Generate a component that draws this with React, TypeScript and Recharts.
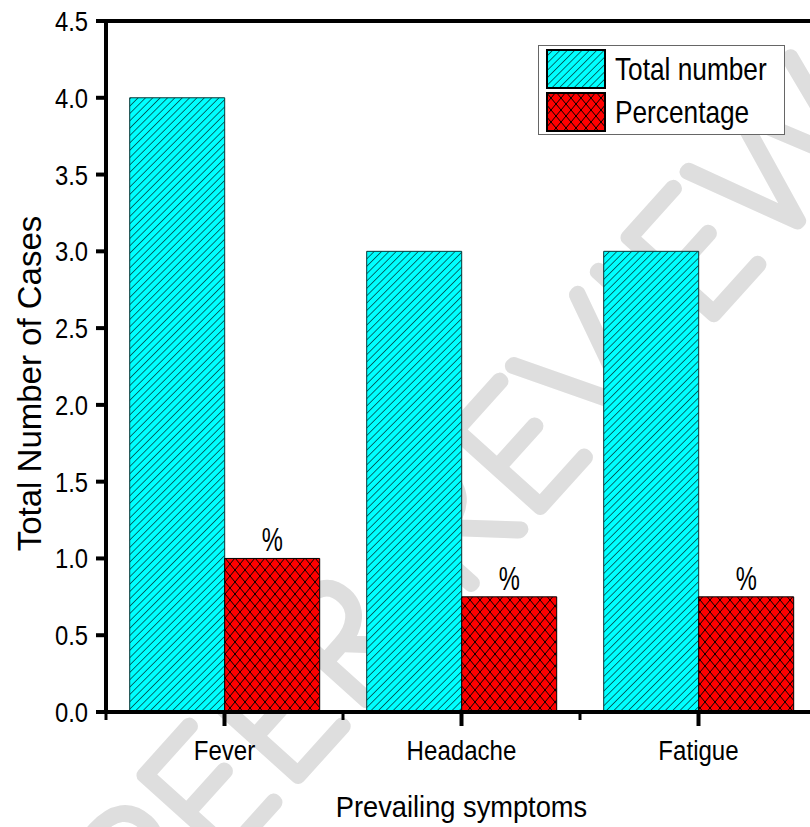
import React from 'react';
import { BarChart, Bar, XAxis, YAxis, Legend, LabelList, ReferenceLine } from 'recharts';

// data
const symptoms = ['Fever', 'Headache', 'Fatigue'];
const totalNumber = [4.0, 3.0, 3.0];
const percentage = [1.0, 0.75, 0.75];
const yTicks = [0, 0.5, 1.0, 1.5, 2.0, 2.5, 3.0, 3.5, 4.0, 4.5];
const seriesNames = ['Total number', 'Percentage'];

const data = symptoms.map((name, i) => ({ name, total: totalNumber[i], pct: percentage[i] }));

// no narrow font installed, so Liberation Sans gets squeezed horizontally
const SANS = "'Liberation Sans', Arial, sans-serif";
const FILLS = ['url(#hatchCyan)', 'url(#crossRed)'];

// category tick + the small minor ticks at the band edges
const XTick = (props: any) => {
  const { x, y, payload, index, visibleTicksCount } = props;
  const half = payload?.offset ?? 0;
  const axisY = y - 28;
  return (
    <g>
      <line x1={x - half} x2={x - half} y1={axisY} y2={axisY + 8} stroke="#000" strokeWidth={3} />
      {index === visibleTicksCount - 1 && (
        <line x1={x + half} x2={x + half} y1={axisY} y2={axisY + 8} stroke="#000" strokeWidth={3} />
      )}
      <g transform={`translate(${x},${y}) scale(0.86,1)`}>
        <text x={0} y={0} dy="0.71em" textAnchor="middle" fontSize={28} fontFamily={SANS} fill="#000">
          {payload.value}
        </text>
      </g>
    </g>
  );
};

const YTick = (props: any) => {
  const { x, y, payload } = props;
  return (
    <g transform={`translate(${x},${y}) scale(0.85,1)`}>
      <text x={0} y={0} dy="0.355em" textAnchor="end" fontSize={28} fontFamily={SANS} fill="#000">
        {Number(payload.value).toFixed(1)}
      </text>
    </g>
  );
};

const YLabel = (props: any) => {
  const vb = props.viewBox || {};
  const x = 29;
  const y = (vb.y ?? 21) + (vb.height ?? 691) / 2 + 17;
  return (
    <text
      x={x}
      y={y}
      transform={`rotate(-90 ${x} ${y})`}
      textAnchor="middle"
      dominantBaseline="central"
      fontSize={33}
      fontFamily={SANS}
      fill="#000"
    >
      Total Number of Cases
    </text>
  );
};

const XLabel = (props: any) => {
  const vb = props.viewBox || {};
  const cx = (vb.x ?? 106) + (vb.width ?? 711) / 2;
  const by = (vb.y ?? 712) + (vb.height ?? 115) - 10;
  return (
    <g transform={`translate(${cx},${by}) scale(0.94,1)`}>
      <text x={0} y={0} textAnchor="middle" fontSize={29} fontFamily={SANS} fill="#000">
        Prevailing symptoms
      </text>
    </g>
  );
};

const PctLabel = (props: any) => {
  const { x, y, width } = props;
  const cx = Number(x) + Number(width) / 2;
  return (
    <g transform={`translate(${cx},${Number(y) - 7}) scale(0.72,1)`}>
      <text x={0} y={0} textAnchor="middle" fontSize={33} fontFamily={SANS} fill="#000">
        %
      </text>
    </g>
  );
};

const LegendBox = () => (
  <div style={{ position: 'relative', width: 245, height: 88, border: '1px solid #666', background: '#fff' }}>
    {seriesNames.map((n, i) => (
      <div key={n} style={{ position: 'absolute', left: 7, top: 3 + i * 43, display: 'flex', alignItems: 'center', whiteSpace: 'nowrap' }}>
        <svg width={60} height={40} style={{ display: 'block' }}>
          <rect x={1} y={1} width={58} height={38} fill={FILLS[i]} stroke="#000" strokeWidth={2} />
        </svg>
        <span
          style={{
            display: 'inline-block',
            marginLeft: 9,
            fontSize: 32,
            fontFamily: SANS,
            lineHeight: '40px',
            color: '#000',
            transform: 'scaleX(0.82)',
            transformOrigin: 'left center',
          }}
        >
          {n}
        </span>
      </div>
    ))}
  </div>
);

export default function App() {
  return (
    <div style={{ position: 'fixed', left: 0, top: 0, width: 810, height: 827, overflow: 'hidden', background: '#fff' }}>
      <svg width={810} height={827} style={{ position: 'absolute', left: 0, top: 0 }}>
        <defs>
          <pattern id="hatchCyan" patternUnits="userSpaceOnUse" width={5.2} height={5.2} patternTransform="rotate(45)">
            <rect width={5.2} height={5.2} fill="#00FFFF" />
            <line x1={0} y1={0} x2={0} y2={5.2} stroke="#000" strokeWidth={1.1} />
          </pattern>
          <pattern id="crossRed" patternUnits="userSpaceOnUse" width={10} height={12}>
            <rect width={10} height={12} fill="#FF0000" />
            <line x1={0} y1={0} x2={10} y2={12} stroke="#000" strokeWidth={1} />
            <line x1={10} y1={0} x2={0} y2={12} stroke="#000" strokeWidth={1} />
          </pattern>
        </defs>
        {/* faint review watermark behind the chart */}
        <text
          x={470}
          y={490}
          transform="rotate(-48 470 490)"
          textAnchor="middle"
          dominantBaseline="central"
          fontFamily="Lato, 'DejaVu Sans', sans-serif"
          fontWeight={100}
          fontSize={165}
          letterSpacing={6}
          fill="none"
          stroke="#dedede"
          strokeWidth={15}
          strokeLinejoin="round"
          strokeLinecap="round"
        >
          PEER REVIEW
        </text>
      </svg>
      <div style={{ position: 'absolute', left: 0, top: 0 }}>
        <BarChart
          width={830}
          height={827}
          data={data}
          margin={{ top: 21, right: 13, left: 46, bottom: 0 }}
          barCategoryGap="10%"
          barGap={0}
        >
          <XAxis
            dataKey="name"
            height={115}
            tickSize={14}
            tickMargin={14}
            tick={<XTick />}
            tickLine={{ stroke: '#000', strokeWidth: 4 }}
            axisLine={{ stroke: '#000', strokeWidth: 4 }}
            label={<XLabel />}
          />
          <YAxis
            width={60}
            domain={[0, 4.5]}
            ticks={yTicks}
            interval={0}
            tickSize={10}
            tickMargin={8}
            tick={<YTick />}
            tickLine={{ stroke: '#000', strokeWidth: 4 }}
            axisLine={{ stroke: '#000', strokeWidth: 4 }}
            label={<YLabel />}
          />
          <ReferenceLine y={4.5} stroke="#000" strokeWidth={4} />
          <Legend
            layout="vertical"
            align="center"
            verticalAlign="middle"
            wrapperStyle={{ top: 45, left: 538, width: 248, height: 91 }}
            content={<LegendBox />}
          />
          <Bar dataKey="total" name={seriesNames[0]} fill={FILLS[0]} stroke="#083838" strokeWidth={1} isAnimationActive={false} />
          <Bar dataKey="pct" name={seriesNames[1]} fill={FILLS[1]} stroke="#000" strokeWidth={1} isAnimationActive={false}>
            <LabelList dataKey="pct" content={<PctLabel />} />
          </Bar>
        </BarChart>
      </div>
    </div>
  );
}
